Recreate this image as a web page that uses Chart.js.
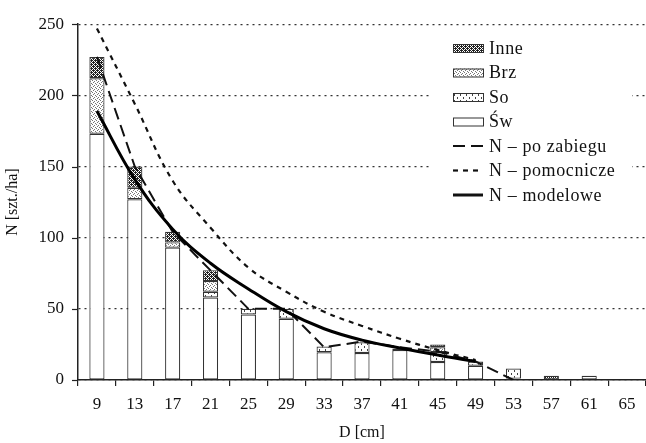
<!DOCTYPE html>
<html>
<head>
<meta charset="utf-8">
<script src="https://cdn.jsdelivr.net/npm/chart.js@4"></script>
<style>
  html, body { margin: 0; padding: 0; background: #fff; }
  #wrap { width: 646px; height: 443px; }
</style>
</head>
<body>
<div id="wrap"><canvas id="chart" width="646" height="443"></canvas></div>
<script>
// D classes [cm]
const categories = ["9", "13", "17", "21", "25", "29", "33", "37", "41", "45", "49", "53", "57", "61", "65"];

// stacked bars, N [szt./ha]
const sw   = [173, 127, 93, 58, 46, 43, 19.5, 19, 21, 12.7, 10, 1, null, 3, 0.5];
const so   = [null, null, null, 4, 4, 7, 4, 7.5, 1, 6.9, 3, 7, null, null, null];
const brz  = [39, 8, 3.7, 7.5, null, null, null, null, null, 3.4, null, null, null, null, null];
const inne = [15, 15, 7.4, 7.7, null, null, null, null, null, 1.9, null, null, 3, null, null];

// lines
const poZabiegu   = [227, 150, 104, 77, 50, 50, 23, 27, 23, 20, 13, 0, null, null, null];
const pomocnicze  = [247, 194, 140, 107, 79, 62, 48, 38, 29, 21, 14, null, null, null, null];
const modelowe    = [189, 141, 106, 82, 64, 48, 36, 28, 22.5, 17.5, 13, null, null, null, null];

const yTicks = [0, 50, 100, 150, 200, 250];
const legendOrder = ["Inne", "Brz", "So", "Św", "N – po zabiegu", "N – pomocnicze", "N – modelowe"];

const FONT = "'Liberation Serif', 'Times New Roman', serif";

// fill patterns for the species
function makePattern(size, dots, color) {
  const c = document.createElement("canvas");
  c.width = size; c.height = size;
  const g = c.getContext("2d");
  g.fillStyle = "#fff";
  g.fillRect(0, 0, size, size);
  g.fillStyle = color;
  dots.forEach(d => g.fillRect(d[0], d[1], 1, 1));
  return g.createPattern(c, "repeat");
}
const ctx = document.getElementById("chart").getContext("2d");
const patInne = makePattern(4, [[0,0],[2,0],[1,1],[3,1],[0,2],[2,2],[1,3],[3,3],[3,0],[1,2]], "#222");
const patBrz  = makePattern(4, [[0,0],[2,1],[1,2],[3,3]], "#777");
const patSo   = makePattern(6, [[1,1],[1,2],[4,4],[4,5]], "#444");

const barStyle = { borderColor: "#333", borderWidth: 1.2, borderSkipped: false, stack: "bars", order: 1, barPercentage: 0.4, categoryPercentage: 1 };

// white panel behind the legend
const legendPanel = {
  id: "legendPanel",
  beforeDatasetsDraw(chart) {
    const c = chart.ctx;
    c.save();
    c.fillStyle = "#fff";
    c.fillRect(432, 34, 200, 174);
    c.restore();
  }
};

// y tick marks and legend drawn inside the plot
const extras = {
  id: "extras",
  afterDraw(chart) {
    const c = chart.ctx, y = chart.scales.y, area = chart.chartArea;
    c.save();
    c.strokeStyle = "#222";
    c.lineWidth = 1.2;
    yTicks.forEach(v => {
      const py = Math.round(y.getPixelForValue(v)) + 0.5;
      c.beginPath(); c.moveTo(area.left - 6, py); c.lineTo(area.left, py); c.stroke();
    });

    const x0 = 453, x1 = 483, tx = 489, top = 48, step = 24.5;
    c.font = "18px " + FONT;
    c.letterSpacing = "0.6px";
    c.textBaseline = "middle";
    c.fillStyle = "#111";
    legendOrder.forEach((label, i) => {
      const ds = chart.data.datasets.find(d => d.label === label);
      const cy = top + i * step;
      if (ds.type === "line") {
        c.setLineDash(ds.borderDash || []);
        c.lineWidth = ds.borderWidth;
        c.strokeStyle = "#111";
        c.beginPath(); c.moveTo(x0, cy); c.lineTo(x1, cy); c.stroke();
        c.setLineDash([]);
      } else {
        c.fillStyle = ds.backgroundColor;
        c.fillRect(x0, cy - 4, x1 - x0, 8);
        c.lineWidth = 1;
        c.strokeStyle = "#333";
        c.strokeRect(x0 + 0.5, cy - 3.5, x1 - x0, 8);
        c.fillStyle = "#111";
      }
      c.fillText(label, tx, cy + 1);
    });
    c.restore();
  }
};

new Chart(ctx, {
  type: "bar",
  data: {
    labels: categories,
    datasets: [
      { type: "line", label: "N – modelowe", data: modelowe, borderColor: "#000", borderWidth: 3, tension: 0.4, pointRadius: 0, fill: false, stack: "l1", order: 0 },
      { type: "line", label: "N – pomocnicze", data: pomocnicze, borderColor: "#111", borderWidth: 2.2, borderDash: [5, 5], tension: 0.4, pointRadius: 0, fill: false, stack: "l2", order: 0 },
      { type: "line", label: "N – po zabiegu", data: poZabiegu, borderColor: "#111", borderWidth: 2, borderDash: [12, 6], tension: 0, pointRadius: 0, fill: false, stack: "l3", order: 0 },
      Object.assign({ label: "Św", data: sw, backgroundColor: "#fff" }, barStyle),
      Object.assign({ label: "So", data: so, backgroundColor: patSo }, barStyle),
      Object.assign({ label: "Brz", data: brz, backgroundColor: patBrz }, barStyle),
      Object.assign({ label: "Inne", data: inne, backgroundColor: patInne }, barStyle)
    ]
  },
  options: {
    responsive: false,
    animation: false,
    layout: { padding: { top: 19, right: 0, left: 0, bottom: 0 } },
    plugins: {
      legend: { display: false },
      tooltip: { enabled: false }
    },
    scales: {
      x: {
        stacked: true,
        offset: true,
        grid: { display: true, drawOnChartArea: false, drawTicks: true, tickLength: 6, offset: true, color: "#222", lineWidth: 1.2 },
        border: { display: true, color: "#222", width: 1.5 },
        ticks: { color: "#111", font: { family: FONT, size: 17 }, padding: 8, maxRotation: 0, autoSkip: false },
        title: { display: true, text: "D [cm]", color: "#111", font: { family: FONT, size: 16 }, padding: { top: 0, bottom: 1 } },
        afterFit: s => { s.height = 63; }
      },
      y: {
        stacked: true,
        min: 0,
        max: 250,
        afterBuildTicks: s => { s.ticks = yTicks.map(v => ({ value: v })); },
        grid: { color: "#333", lineWidth: 1.2, drawTicks: false },
        border: { display: true, color: "#222", width: 1.5, dash: [2, 4] },
        ticks: { color: "#111", font: { family: FONT, size: 17 }, padding: 14 },
        title: { display: true, text: "N [szt./ha]", color: "#111", font: { family: FONT, size: 16 }, padding: { top: 3, bottom: 0 } },
        afterFit: s => { s.width = 78; }
      }
    }
  },
  plugins: [legendPanel, extras]
});
</script>
</body>
</html>
